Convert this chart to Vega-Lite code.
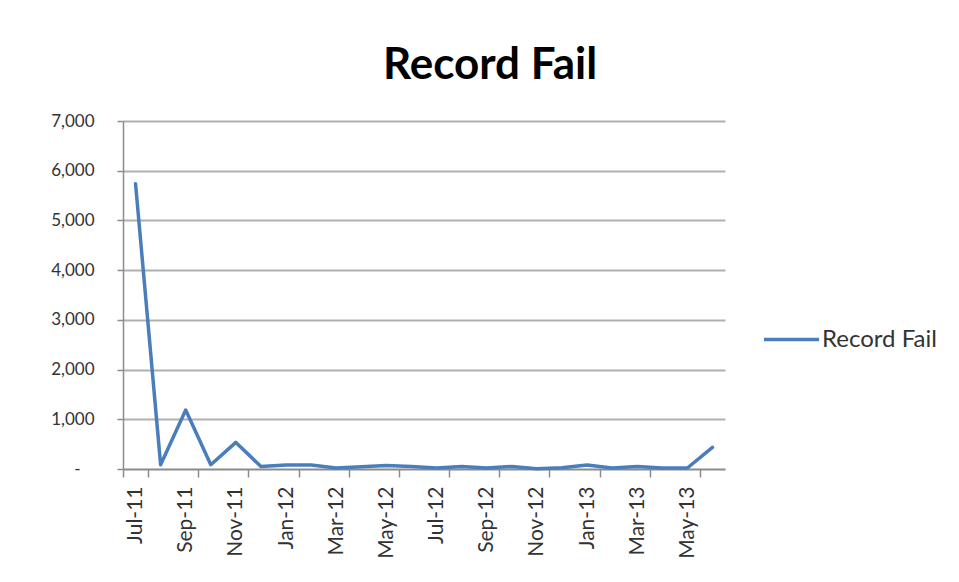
{
  "$schema": "https://vega.github.io/schema/vega-lite/v6.json",
  "autosize": "none",
  "padding": {"left": 123, "top": 121, "right": 234, "bottom": 113},
  "width": 602,
  "height": 348,
  "background": "white",
  "title": {
    "text": "Record Fail",
    "font": "Lato",
    "fontSize": 44,
    "fontWeight": "bold",
    "color": "#000000",
    "anchor": "middle",
    "frame": "group",
    "dx": 66,
    "offset": 24
  },
  "data": {
    "values": [
      {"month": "Jul-11", "series": "Record Fail", "value": 5740},
      {"month": "Aug-11", "series": "Record Fail", "value": 85},
      {"month": "Sep-11", "series": "Record Fail", "value": 1185},
      {"month": "Oct-11", "series": "Record Fail", "value": 85},
      {"month": "Nov-11", "series": "Record Fail", "value": 535},
      {"month": "Dec-11", "series": "Record Fail", "value": 50},
      {"month": "Jan-12", "series": "Record Fail", "value": 80},
      {"month": "Feb-12", "series": "Record Fail", "value": 80},
      {"month": "Mar-12", "series": "Record Fail", "value": 20},
      {"month": "Apr-12", "series": "Record Fail", "value": 45},
      {"month": "May-12", "series": "Record Fail", "value": 70},
      {"month": "Jun-12", "series": "Record Fail", "value": 50},
      {"month": "Jul-12", "series": "Record Fail", "value": 20},
      {"month": "Aug-12", "series": "Record Fail", "value": 50},
      {"month": "Sep-12", "series": "Record Fail", "value": 20},
      {"month": "Oct-12", "series": "Record Fail", "value": 50},
      {"month": "Nov-12", "series": "Record Fail", "value": 5},
      {"month": "Dec-12", "series": "Record Fail", "value": 25},
      {"month": "Jan-13", "series": "Record Fail", "value": 80},
      {"month": "Feb-13", "series": "Record Fail", "value": 20},
      {"month": "Mar-13", "series": "Record Fail", "value": 50},
      {"month": "Apr-13", "series": "Record Fail", "value": 20},
      {"month": "May-13", "series": "Record Fail", "value": 20},
      {"month": "Jun-13", "series": "Record Fail", "value": 435}
    ]
  },
  "mark": {"type": "line", "strokeWidth": 3.5, "strokeJoin": "round", "strokeCap": "round"},
  "encoding": {
    "x": {
      "field": "month",
      "type": "ordinal",
      "sort": null,
      "scale": {"paddingInner": 0, "paddingOuter": 0},
      "axis": {
        "title": null,
        "values": ["Jul-11", "Sep-11", "Nov-11", "Jan-12", "Mar-12", "May-12", "Jul-12", "Sep-12", "Nov-12", "Jan-13", "Mar-13", "May-13"],
        "tickBand": "extent",
        "labelAngle": -90,
        "labelAlign": "right",
        "labelBaseline": "middle",
        "labelFont": "Lato",
        "labelFontSize": 21,
        "labelColor": "#333333",
        "labelPadding": 9,
        "tickSize": 8,
        "tickColor": "#8c8c8c",
        "domainColor": "#8c8c8c",
        "domainWidth": 1.5,
        "tickWidth": 1.5,
        "grid": false
      }
    },
    "y": {
      "field": "value",
      "type": "quantitative",
      "scale": {"domain": [0, 7000], "nice": false},
      "axis": {
        "title": null,
        "values": [0, 1000, 2000, 3000, 4000, 5000, 6000, 7000],
        "labelExpr": "datum.value == 0 ? '-' : format(datum.value, ',')",
        "labelFont": "Lato",
        "labelFontSize": 17,
        "labelColor": "#333333",
        "labelPadding": {"condition": {"test": "datum.value == 0", "value": 37}, "value": 23},
        "tickSize": 6,
        "tickColor": "#8c8c8c",
        "tickWidth": 1.5,
        "domainColor": "#8c8c8c",
        "domainWidth": 1.5,
        "grid": true,
        "gridColor": "#b0b0b0",
        "gridWidth": 2
      }
    },
    "color": {
      "field": "series",
      "type": "nominal",
      "scale": {"range": ["#4a7ebb"]},
      "legend": {
        "title": null,
        "orient": "none",
        "legendX": 639,
        "legendY": 189,
        "symbolType": "stroke",
        "symbolSize": 3025,
        "symbolStrokeWidth": 3.5,
        "labelFont": "Lato",
        "labelFontSize": 24,
        "labelColor": "#333333",
        "labelOffset": 1
      }
    }
  },
  "config": {
    "view": {"stroke": null}
  }
}
